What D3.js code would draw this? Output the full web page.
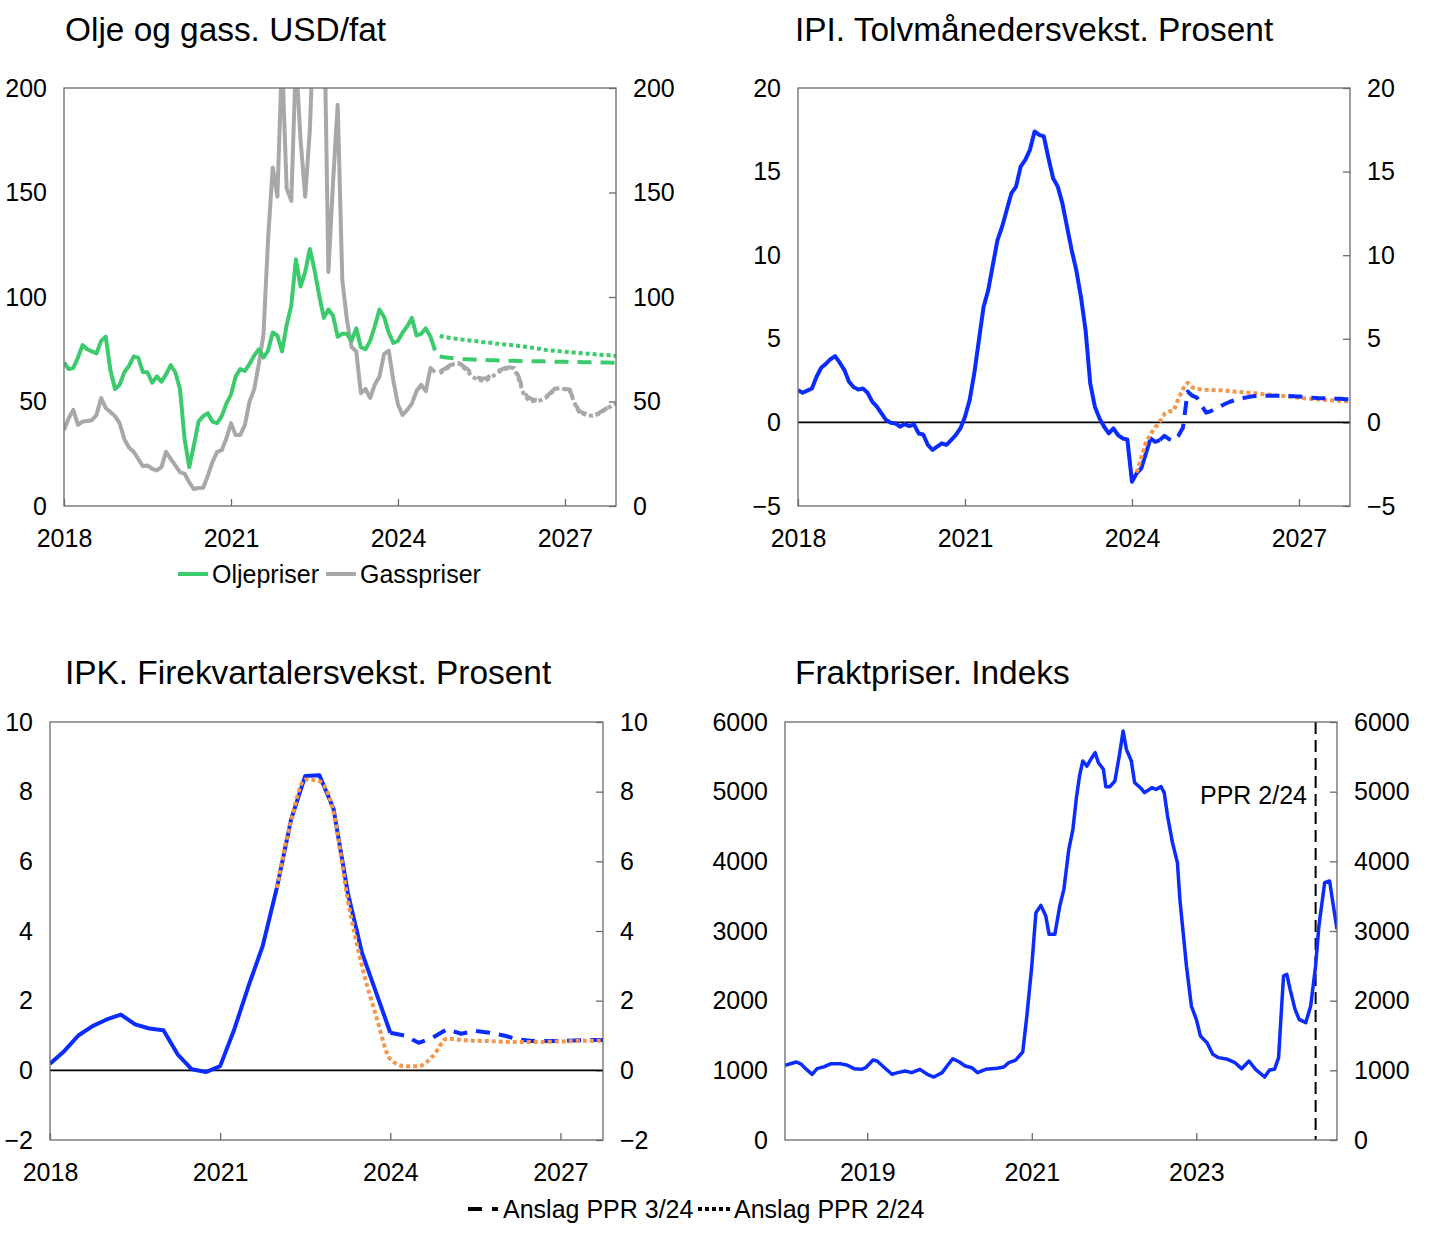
<!DOCTYPE html>
<html><head><meta charset="utf-8">
<script src="https://cdn.jsdelivr.net/npm/d3@7"></script>
<style>body{margin:0;background:#fff;} text{font-family:"Liberation Sans",Arial,sans-serif;}</style>
</head><body><svg id="c" width="1445" height="1248"></svg>
<script>
// ---------------- DATA ----------------
// Panel 1: monthly from Jan 2018 (USD/fat)
const oilHist = [68.7,65.5,66,71,77,75,74,73,79,81,
  65,56,58,64,67,71.5,71,64,64,59,
  62,59.5,63,67.4,64,56,32,18.6,29,40.4,
  43,44.4,40.4,39.6,43,49,53.3,62,65.5,64.6,
  68,72,75,71,74.4,83,81.6,74,86.5,96,
  118,105,112,123,113,101,90,94,91,81,
  82.4,82.4,79,85,76,75,79,86,94,90.5,
  83,78,79,83,86,90,81.6,82.4,85,81,
  74.4];
const gasHist = [36.4,42,46,38.8,40.4,40.7,41,43.6,51.7,46.9,
  45,43,39.6,32,28,26,22.6,19,19.4,17.8,
  17,18.6,25.9,22.6,19.4,16.2,15.4,11.3,8.1,8.6,
  8.7,14.5,21,25.9,26.7,32.3,39.6,34,34,38.8,
  50,55.8,68,82,128,162,148,215,152,146,
  215,175,148,180,240,300,250,112,155,192,
  108,89,76,74,54,56,51.7,58,62,72.7,
  74.4,60,48.5,43.6,46,49,55,58,55,66,
  64];
const fcStartMonth = 81; // Oct 2024
const oilFc324 = [71.5,71.2,70.9,70.7,70.5,70.3,70.2,70.1,70.0,69.9,69.8,69.7,69.7,69.6,69.6,69.5,69.5,69.4,69.4,69.3,69.3,69.2,69.2,69.1,69.1,69.0,69.0,69.0,68.9,68.9,68.9,68.8,68.8,68.8,68.7,68.7,68.7,68.6,68.6];
const oilFc224 = [81.3,80.9,80.5,80.2,79.9,79.6,79.3,79.0,78.8,78.5,78.3,78.1,77.8,77.6,77.3,77.1,76.9,76.6,76.3,76.0,75.7,75.4,75.0,74.6,74.4,74.2,74.0,73.8,73.6,73.4,73.2,73.0,72.9,72.7,72.5,72.3,72.2,72.0,71.8];
const gasFc324 = [64.3,65.5,67,68.5,69,67,65.5,63,61.5,61,61,62.5,64,65,66,66.3,66.5,62,55,52,51,50.7,51.2,52.3,54.5,56.5,57,56,55.8,50,45.5,44.5,43.8,43.5,44,45.5,46.8,48,49.4];
const gasFc224 = [63.5,65,66.5,68,68.5,66.5,64.5,62,60.5,60,60.2,61.5,63,64.5,65.5,66,66.2,61,54,51,50.2,50.2,50.8,52,54,56,56.6,55.8,55.4,49.5,45,44,43.3,43.2,43.8,45.2,46.5,47.8,49.2];

// Panel 2: IPI, monthly from Jan 2018
const ipiHist = [1.93,1.77,1.9,2.03,2.73,3.27,3.5,3.78,3.96,3.57,
  3.13,2.43,2.1,1.97,2.03,1.77,1.24,0.94,0.54,0.14,
  -0.02,-0.06,-0.26,-0.1,-0.22,-0.12,-0.66,-0.72,-1.35,-1.65,
  -1.45,-1.25,-1.35,-1.06,-0.76,-0.36,0.34,1.33,2.93,4.92,
  6.9,7.9,9.4,10.9,11.7,12.7,13.7,14.1,15.3,15.7,
  16.3,17.4,17.2,17.1,15.8,14.6,14.1,13.1,11.7,10.3,
  9.1,7.5,5.5,2.33,0.94,0.24,-0.26,-0.66,-0.36,-0.76,
  -0.96,-1.02,-3.55,-3.05,-2.75,-1.85,-0.96,-1.16,-1.06];
const ipiFc324Start = 78;
const ipiFc324 = [-1.06,-0.8,-1.0,-1.1,-0.8,-0.3,1.85,1.6,1.48,1.0,0.58,0.68,0.8,0.95,1.1,1.22,1.32,1.4,1.46,1.51,1.56,1.58,1.59,1.6,1.6,1.6,1.6,1.59,1.58,1.56,1.55,1.53,1.51,1.48,1.46,1.45,1.44,1.43,1.42,1.41,1.39,1.38];
const ipiFc224Start = 73;
const ipiFc224 = [-3.0,-2.1,-1.2,-0.7,-0.3,0.05,0.5,0.65,0.7,1.4,2.0,2.37,2.1,2.0,1.97,1.95,1.94,1.93,1.92,1.9,1.88,1.85,1.83,1.8,1.78,1.76,1.73,1.7,1.68,1.65,1.62,1.6,1.57,1.54,1.51,1.48,1.45,1.42,1.4,1.38,1.36,1.34,1.32,1.3,1.29,1.28,1.27];

// Panel 3: IPK, quarterly from 2018 Q1
const ipkHist = [0.19,0.55,1.0,1.27,1.46,1.6,1.32,1.2,1.15,0.46,0.03,-0.05,0.12,1.18,2.42,3.57,5.24,7.2,8.45,8.47,7.5,5.1,3.38,2.23,1.08];
const ipkFc324Start = 24;
const ipkFc324 = [1.08,1.0,0.79,0.94,1.18,1.05,1.13,1.08,1.0,0.89,0.84,0.84,0.84,0.86,0.87,0.87];
const ipkFc224Start = 16;
const ipkFc224 = [5.24,7.16,8.35,8.3,7.4,4.9,3.0,1.56,0.32,0.12,0.12,0.41,0.91,0.87,0.85,0.84,0.82,0.81,0.81,0.82,0.83,0.84,0.85,0.85];

// Panel 4: freight index (decimal year, value)
const freightT = [2018.0,2018.14,2018.2,2018.25,2018.33,2018.39,2018.48,2018.56,2018.67,2018.76,2018.84,2018.93,2018.98,2019.07,2019.12,2019.21,2019.3,2019.37,2019.46,2019.54,2019.64,2019.73,2019.81,2019.91,2019.97,2020.04,2020.12,2020.19,2020.27,2020.34,2020.44,2020.58,2020.66,2020.72,2020.8,2020.89,2020.94,2021.0,2021.05,2021.11,2021.17,2021.21,2021.28,2021.34,2021.39,2021.45,2021.5,2021.54,2021.58,2021.62,2021.67,2021.73,2021.77,2021.81,2021.87,2021.9,2021.95,2022.01,2022.07,2022.11,2022.15,2022.21,2022.25,2022.32,2022.37,2022.46,2022.51,2022.57,2022.61,2022.65,2022.71,2022.77,2022.8,2022.84,2022.88,2022.94,2023.0,2023.05,2023.13,2023.2,2023.27,2023.38,2023.47,2023.55,2023.64,2023.72,2023.83,2023.89,2023.95,2024.0,2024.03,2024.06,2024.1,2024.14,2024.2,2024.25,2024.33,2024.39,2024.45,2024.49,2024.56,2024.62,2024.66,2024.71];
const freightV = [1072,1120,1086,1024,943,1024,1053,1096,1096,1072,1024,1014,1038,1148,1134,1038,943,967,990,967,1014,943,904,967,1062,1167,1120,1062,1038,967,1014,1029,1048,1110,1144,1263,1780,2498,3263,3368,3215,2952,2952,3359,3598,4172,4459,4890,5225,5440,5368,5488,5560,5416,5321,5072,5072,5153,5560,5871,5608,5440,5129,5057,4986,5057,5033,5072,4986,4651,4268,3981,3455,2976,2498,1923,1732,1493,1397,1230,1182,1158,1110,1024,1134,1014,904,1005,1014,1182,1780,2354,2378,2163,1876,1732,1684,1923,2498,3072,3694,3718,3407,3024];
const pprLineT = 2024.45;

// Ticks / labels
const yTicks1 = [0,50,100,150,200];
const yTicks2 = [-5,0,5,10,15,20];
const yTicks3 = [-2,0,2,4,6,8,10];
const yTicks4 = [0,1000,2000,3000,4000,5000,6000];
const xTicksA = [2018,2021,2024,2027];
const xTicks4 = [2019,2021,2023];
const titles = ["Olje og gass. USD/fat","IPI. Tolvmånedersvekst. Prosent","IPK. Firekvartalersvekst. Prosent","Fraktpriser. Indeks"];
const legend1 = ["Oljepriser","Gasspriser"];
const legendBottom = ["Anslag PPR 3/24","Anslag PPR 2/24"];

// ---------------- DRAWING ----------------
const GREEN="#3ccb6c", GRAY="#a8a8a8", BLUE="#0a2cff", ORANGE="#f2974d", FRAME="#6a6a6a";
const TICKFS=25, TITLEFS=33.4;
const svg=d3.select('#c');
const fmt=d3.format('d');
const monthly=(arr,start)=>arr.map((v,i)=>[2018+(start+i)/12,v]);
const quarterly=(arr,start)=>arr.map((v,i)=>[2018+(start+i)/4,v]);

function styleAxis(s){
  s.select('.domain').remove();
  s.selectAll('line').attr('stroke',FRAME).attr('stroke-width',1.3);
  s.selectAll('text').attr('font-size',TICKFS).attr('fill','#000').attr('font-family','"Liberation Sans",Arial,sans-serif');
}
function makePanel(o){
  const x=d3.scaleLinear().domain(o.xd).range([o.l,o.r]);
  const y=d3.scaleLinear().domain(o.yd).range([o.b,o.t]);
  const g=svg.append('g');
  g.append('text').attr('x',o.tx).attr('y',o.ty).attr('font-size',TITLEFS).attr('fill','#000').text(o.title);
  g.append('g').attr('transform',`translate(${o.l},0)`).call(d3.axisLeft(y).tickValues(o.yt).tickSize(0).tickPadding(17).tickFormat(fmt)).call(styleAxis);
  g.append('g').attr('transform',`translate(${o.r},0)`).call(d3.axisRight(y).tickValues(o.yt).tickSize(-7).tickPadding(17).tickFormat(fmt)).call(styleAxis);
  g.append('g').attr('transform',`translate(0,${o.b})`).call(d3.axisBottom(x).tickValues(o.xt).tickSize(-7).tickPadding(23).tickFormat(fmt)).call(styleAxis);
  const cid='clip'+o.id;
  svg.append('clipPath').attr('id',cid).append('rect').attr('x',o.l).attr('y',o.t).attr('width',o.r-o.l).attr('height',o.b-o.t);
  const plot=g.append('g').attr('clip-path',`url(#${cid})`);
  if(o.zero){
    plot.append('line').attr('x1',o.l).attr('x2',o.r).attr('y1',y(0)).attr('y2',y(0)).attr('stroke','#000').attr('stroke-width',1.6);
  }
  g.append('rect').attr('x',o.l).attr('y',o.t).attr('width',o.r-o.l).attr('height',o.b-o.t).attr('fill','none').attr('stroke',FRAME).attr('stroke-width',1.3);
  return {x,y,plot,g};
}
function line(p,data,color,w,dash,curve){
  const gen=d3.line().x(d=>p.x(d[0])).y(d=>p.y(d[1])).curve(curve||d3.curveLinear);
  const path=p.plot.append('path').datum(data).attr('d',gen).attr('fill','none').attr('stroke',color).attr('stroke-width',w).attr('stroke-linejoin','round');
  if(dash) path.attr('stroke-dasharray',dash);
  return path;
}
const DASH="14,9", DOT="4,3";

// Panel 1
const p1=makePanel({id:1,l:64,r:616,t:88,b:506,xd:[2018,2018+119/12],yd:[0,200],yt:yTicks1,xt:xTicksA,title:titles[0],tx:65,ty:41});
line(p1,monthly(gasHist,0),GRAY,4);
line(p1,monthly(gasFc224,fcStartMonth),GRAY,4,DOT);
line(p1,monthly(gasFc324,fcStartMonth),GRAY,4,DASH);
line(p1,monthly(oilHist,0),GREEN,4);
line(p1,monthly(oilFc224,fcStartMonth),GREEN,4,DOT);
line(p1,monthly(oilFc324,fcStartMonth),GREEN,4,DASH);
// legend 1
const lg=svg.append('g');
[[GREEN,178,212],[GRAY,326,360]].forEach((d,i)=>{
  lg.append('line').attr('x1',d[1]).attr('x2',d[1]+30).attr('y1',574).attr('y2',574).attr('stroke',d[0]).attr('stroke-width',4);
  lg.append('text').attr('x',d[2]).attr('y',583).attr('font-size',TICKFS).text(legend1[i]);
});

// Panel 2
const p2=makePanel({id:2,l:798,r:1350,t:88,b:506,xd:[2018,2018+119/12],yd:[-5,20],yt:yTicks2,xt:xTicksA,title:titles[1],tx:795,ty:41,zero:true});
line(p2,monthly(ipiHist,0),BLUE,4);
line(p2,monthly(ipiFc224,ipiFc224Start),ORANGE,4,DOT);
line(p2,monthly(ipiFc324,ipiFc324Start),BLUE,4,DASH);

// Panel 3
const p3=makePanel({id:3,l:50,r:603,t:722,b:1140,xd:[2018,2027.75],yd:[-2,10],yt:yTicks3,xt:xTicksA,title:titles[2],tx:65,ty:684,zero:true});
line(p3,quarterly(ipkHist,0),BLUE,4);
line(p3,quarterly(ipkFc324,ipkFc324Start),BLUE,4,DASH);
line(p3,quarterly(ipkFc224,ipkFc224Start),ORANGE,4,DOT,d3.curveMonotoneX);

// Panel 4
const p4=makePanel({id:4,l:785,r:1337,t:722,b:1140,xd:[2018,2024.71],yd:[0,6000],yt:yTicks4,xt:xTicks4,title:titles[3],tx:795,ty:684});
p4.plot.append('line').attr('x1',p4.x(pprLineT)).attr('x2',p4.x(pprLineT)).attr('y1',722).attr('y2',1140).attr('stroke','#000').attr('stroke-width',2).attr('stroke-dasharray','12,6');
line(p4,d3.zip(freightT,freightV),BLUE,3.5);
p4.g.append('text').attr('x',1307).attr('y',804).attr('text-anchor','end').attr('font-size',TICKFS).text('PPR 2/24');

// Bottom legend
const bl=svg.append('g');
bl.append('line').attr('x1',468).attr('x2',498).attr('y1',1209).attr('y2',1209).attr('stroke','#000').attr('stroke-width',4).attr('stroke-dasharray','14,10');
bl.append('text').attr('x',503).attr('y',1218).attr('font-size',TICKFS).text(legendBottom[0]);
bl.append('line').attr('x1',698).attr('x2',730).attr('y1',1209).attr('y2',1209).attr('stroke','#000').attr('stroke-width',4).attr('stroke-dasharray',DOT);
bl.append('text').attr('x',734).attr('y',1218).attr('font-size',TICKFS).text(legendBottom[1]);
</script></body></html>
